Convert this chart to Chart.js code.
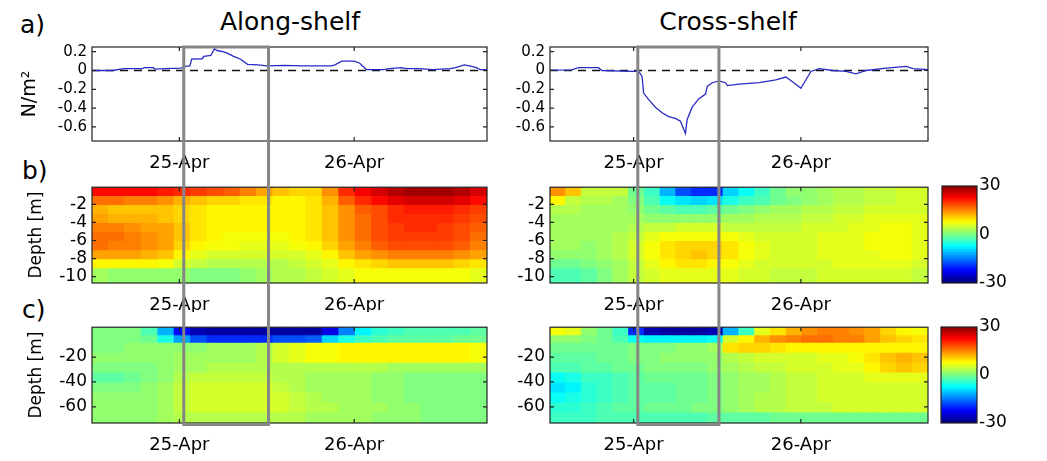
<!DOCTYPE html>
<html>
<head>
<meta charset="utf-8">
<script src="https://cdn.jsdelivr.net/npm/chart.js@4.4.1/dist/chart.umd.min.js"></script>
<style>
    body { margin: 0; background: #fff; }
    #fig { position: relative; width: 1047px; height: 461px; overflow: hidden; font-family: 'DejaVu Sans', sans-serif; }
    #fig canvas { position: absolute; }
    .lbl { position: absolute; color: #000; white-space: nowrap; line-height: 1; }
    .ttl { transform: translate(-50%, -50%); font-size: 25px; }
    .pan { font-size: 25px; }
</style>
</head>
<body>
<div id="fig">
    <div class="lbl ttl" style="left:290px; top:21px;">Along-shelf</div>
    <div class="lbl ttl" style="left:728px; top:21px;">Cross-shelf</div>
    <div class="lbl pan" style="left:20px; top:12px;">a)</div>
    <div class="lbl pan" style="left:22px; top:158px;">b)</div>
    <div class="lbl pan" style="left:22px; top:297px;">c)</div>
</div>
<script>
// time axis (days of April)
const timeRange = [24.5, 26.76];
const dayTicks = [25, 26];
const dayTickLabels = ['25-Apr', '26-Apr'];
const boxSpan = [25.025, 25.51];

// a) wind stress
const stressRange = [-0.75, 0.25];
const stressTicks = [-0.6, -0.4, -0.2, 0, 0.2];
const stressTickLabels = ['-0.6', '-0.4', '-0.2', '0', '0.2'];
const alongTimes = [24.50, 24.62, 24.68, 24.79, 24.80, 24.85, 24.86, 24.92, 25.01, 25.03, 25.06, 25.07, 25.13, 25.14, 25.18, 25.20, 25.22, 25.25, 25.28, 25.31, 25.35, 25.39, 25.45, 25.50, 25.60, 25.70, 25.80, 25.87, 25.89, 25.93, 26.00, 26.03, 26.07, 26.17, 26.20, 26.27, 26.30, 26.37, 26.45, 26.55, 26.58, 26.63, 26.66, 26.70, 26.72, 26.76];
const alongStress = [0.00, 0.00, 0.02, 0.02, 0.03, 0.03, 0.015, 0.02, 0.025, 0.045, 0.05, 0.12, 0.125, 0.15, 0.16, 0.23, 0.21, 0.20, 0.18, 0.15, 0.12, 0.065, 0.06, 0.05, 0.055, 0.05, 0.05, 0.05, 0.06, 0.10, 0.10, 0.08, 0.01, 0.01, 0.02, 0.03, 0.02, 0.02, 0.01, 0.02, 0.03, 0.06, 0.05, 0.03, 0.01, 0.01];
const crossTimes = [24.50, 24.63, 24.67, 24.79, 24.81, 24.99, 25.03, 25.05, 25.06, 25.09, 25.13, 25.17, 25.21, 25.25, 25.28, 25.31, 25.32, 25.35, 25.39, 25.43, 25.44, 25.47, 25.51, 25.55, 25.56, 25.63, 25.75, 25.85, 25.91, 25.95, 26.00, 26.06, 26.11, 26.19, 26.27, 26.33, 26.39, 26.51, 26.63, 26.67, 26.76];
const crossStress = [0.005, 0.007, 0.03, 0.03, 0.0, -0.01, -0.01, -0.06, -0.24, -0.31, -0.39, -0.45, -0.49, -0.51, -0.54, -0.67, -0.52, -0.39, -0.30, -0.25, -0.17, -0.13, -0.11, -0.13, -0.16, -0.145, -0.13, -0.10, -0.07, -0.12, -0.19, -0.01, 0.02, 0.0, -0.01, -0.035, 0.0, 0.025, 0.043, 0.02, 0.01];

// b), c) velocity sections
const gridTimes = [24.5471, 24.6413, 24.7354, 24.8296, 24.9238, 25.0179, 25.1121, 25.2063, 25.3004, 25.3946, 25.4888, 25.5829, 25.6771, 25.7713, 25.8654, 25.9596, 26.0538, 26.1479, 26.2421, 26.3363, 26.4304, 26.5246, 26.6188, 26.7129];
const shallowEdges = [-0.1, -1, -2, -3, -4, -5, -6, -7, -8, -9, -10.7];
const shallowTicks = [-10, -8, -6, -4, -2];
const shallowTickLabels = ['-10', '-8', '-6', '-4', '-2'];
const deepEdges = [4, -2, -8, -16, -24, -32, -40, -48, -56, -64, -73];
const deepTicks = [-60, -40, -20];
const deepTickLabels = ['-60', '-40', '-20'];

const alongShallow = [
    [22, 22, 22, 22, 21, 20, 19, 18, 17, 15, 13, 11, 10, 10, 14, 20, 23, 25, 27, 28, 28, 28, 27, 25],
    [16, 16, 15, 15, 14, 12, 11, 10, 10, 9, 9, 8, 8, 9, 12, 17, 20, 22, 24, 25, 25, 25, 24, 22],
    [12, 11, 11, 11, 11, 10, 9, 8, 8, 8, 8, 8, 8, 9, 11, 14, 17, 18, 20, 21, 21, 21, 20, 19],
    [13, 12, 12, 12, 11, 10, 9, 8, 8, 8, 8, 8, 8, 9, 11, 14, 16, 18, 20, 20, 20, 20, 19, 18],
    [15, 15, 14, 13, 13, 11, 9, 8, 8, 8, 8, 8, 8, 9, 11, 14, 16, 18, 19, 20, 20, 19, 18, 17],
    [16, 16, 15, 14, 13, 11, 9, 8, 7, 7, 7, 7, 8, 9, 11, 14, 16, 18, 19, 19, 19, 19, 18, 16],
    [16, 15, 15, 14, 13, 10, 8, 7, 7, 6, 6, 6, 7, 8, 10, 13, 15, 17, 18, 18, 18, 18, 17, 15],
    [13, 13, 13, 12, 11, 8, 6, 5, 5, 5, 5, 5, 5, 6, 8, 11, 13, 14, 15, 15, 15, 15, 14, 13],
    [8, 8, 8, 8, 7, 5, 4, 3, 3, 3, 3, 3, 4, 5, 6, 8, 9, 10, 11, 11, 11, 11, 10, 9],
    [2, 1, 1, 1, 1, 1, 0, 0, 0, 1, 2, 3, 3, 4, 5, 6, 7, 7, 7, 7, 7, 7, 7, 6]
];
const crossShallow = [
    [14, 11, 4, 4, 4, -1, -4, -12, -18, -20, -20, -10, -7, -4, -1, 1, 1, 2, 3, 3, 4, 4, 5, 5],
    [8, 4, 3, 3, 2, 0, -3, -7, -9, -10, -9, -6, -4, -3, -1, 0, 1, 2, 3, 3, 4, 4, 5, 5],
    [3, 3, 2, 2, 2, 1, -1, -2, -3, -3, -2, -1, 0, 1, 2, 2, 3, 3, 4, 4, 5, 5, 5, 5],
    [2, 2, 2, 2, 2, 2, 1, 1, 1, 1, 1, 2, 2, 3, 3, 3, 4, 4, 5, 5, 6, 6, 6, 6],
    [2, 2, 2, 2, 2, 3, 4, 4, 5, 5, 5, 4, 4, 4, 4, 4, 5, 5, 5, 6, 6, 7, 7, 6],
    [2, 2, 2, 2, 3, 4, 6, 7, 7, 7, 7, 7, 6, 5, 5, 5, 5, 6, 6, 6, 7, 7, 7, 6],
    [2, 2, 1, 2, 3, 5, 7, 9, 10, 10, 10, 9, 7, 6, 5, 5, 5, 6, 6, 6, 7, 7, 7, 6],
    [1, 1, 1, 2, 3, 5, 7, 9, 10, 11, 10, 9, 7, 6, 5, 5, 5, 6, 6, 6, 6, 7, 7, 6],
    [-1, -1, 0, 1, 2, 4, 6, 8, 9, 9, 8, 7, 6, 5, 5, 5, 5, 5, 6, 6, 6, 6, 6, 5],
    [-3, -3, -2, 0, 2, 4, 5, 6, 6, 6, 6, 6, 5, 5, 4, 4, 4, 5, 5, 5, 5, 5, 5, 4]
];
const alongDeep = [
    [0, 0, 0, -3, -12, -22, -27, -28, -28, -28, -28, -28, -28, -28, -24, -15, -8, -5, -4, -3, -3, -3, -3, -2],
    [0, 0, 0, -1, -6, -13, -18, -20, -20, -20, -20, -18, -18, -17, -10, -6, -4, -3, -2, -2, -2, -2, -1, -1],
    [0, 0, 1, 1, 1, 1, 1, 2, 2, 2, 3, 5, 6, 7, 7, 8, 8, 8, 8, 8, 8, 8, 8, 7],
    [1, 1, 1, 1, 1, 2, 2, 2, 2, 2, 3, 5, 6, 7, 7, 8, 8, 8, 8, 8, 8, 8, 8, 7],
    [0, 0, 0, 0, 1, 2, 2, 3, 3, 3, 3, 3, 3, 3, 3, 3, 3, 3, 2, 2, 2, 2, 2, 2],
    [-2, -2, -1, 0, 1, 3, 4, 4, 4, 4, 4, 3, 3, 2, 2, 2, 2, 1, 1, 0, 0, 0, 0, 0],
    [0, 0, 0, 1, 2, 4, 5, 5, 5, 5, 5, 4, 3, 2, 2, 2, 2, 1, 1, 0, 0, 0, 0, 0],
    [1, 1, 1, 1, 2, 4, 5, 5, 5, 5, 5, 5, 4, 3, 2, 2, 2, 1, 1, 0, 0, 0, 0, 0],
    [1, 1, 1, 1, 2, 4, 5, 5, 5, 5, 5, 5, 4, 3, 3, 2, 2, 2, 1, 1, 0, 0, 0, 0],
    [1, 1, 1, 1, 2, 3, 3, 3, 3, 3, 3, 3, 3, 2, 2, 2, 2, 1, 1, 1, 0, 0, 0, 0]
];
const crossDeep = [
    [7, 6, 1, -1, -4, -20, -27, -28, -28, -28, -27, -12, -4, 6, 9, 12, 14, 15, 15, 14, 13, 10, 8, 7],
    [1, 1, 0, -1, -3, -7, -8, -8, -8, -8, -7, 5, 8, 12, 14, 15, 16, 16, 15, 15, 13, 11, 10, 9],
    [-1, -1, -1, -1, -1, 0, 0, 0, 1, 1, 2, 9, 10, 10, 9, 8, 8, 8, 8, 8, 8, 8, 8, 8],
    [-2, -2, -2, -1, -1, 0, 0, 1, 1, 1, 1, 3, 4, 5, 5, 5, 5, 6, 6, 7, 9, 11, 12, 11],
    [-3, -3, -2, -2, -1, -1, 0, 0, 0, 0, 1, 2, 3, 4, 4, 5, 5, 5, 6, 6, 8, 10, 11, 10],
    [-7, -6, -4, -4, -3, -2, -1, -1, -1, -1, 0, 1, 2, 2, 3, 4, 4, 5, 5, 5, 6, 6, 6, 6],
    [-9, -8, -5, -4, -3, -2, -2, -2, -1, -1, 0, 1, 2, 2, 3, 4, 4, 5, 5, 5, 5, 5, 5, 5],
    [-7, -6, -5, -4, -3, -2, -2, -2, -1, -1, 0, 1, 2, 3, 3, 4, 4, 5, 5, 5, 5, 5, 5, 5],
    [-5, -5, -4, -3, -2, -2, -1, -1, -1, 0, 0, 1, 2, 3, 3, 4, 4, 4, 5, 5, 5, 5, 5, 5],
    [-4, -4, -4, -3, -3, -3, -3, -3, -3, -3, -2, -2, -2, -2, -1, -1, -1, -1, -1, -1, -1, -1, -1, -1]
];

// colour scale
const colorLimits = [-30, 30];
const colorTicks = [-30, 0, 30];
const colorTickLabels = ['-30', '0', '30'];
const colorSteps = 64;

Chart.defaults.font.family = "'DejaVu Sans', sans-serif";
Chart.defaults.color = '#000';

function jet(v) {
    let t = (v - colorLimits[0]) / (colorLimits[1] - colorLimits[0]);
    t = Math.max(0, Math.min(1, t));
    const c = x => Math.round(255 * Math.max(0, Math.min(1, x)));
    return `rgb(${c(1.5 - Math.abs(4 * t - 3))},${c(1.5 - Math.abs(4 * t - 2))},${c(1.5 - Math.abs(4 * t - 1))})`;
}

// box, inward ticks and the grey highlight box
const framePlugin = {
    id: 'frame',
    afterDraw(chart, args, opts) {
        const { ctx, chartArea: a, scales } = chart;
        ctx.save();
        ctx.strokeStyle = '#222';
        ctx.lineWidth = 1.2;
        ctx.strokeRect(a.left, a.top, a.right - a.left, a.bottom - a.top);
        if (opts.ticks) {
            const tl = 4;
            ctx.beginPath();
            scales.x.ticks.forEach(t => {
                const px = scales.x.getPixelForValue(t.value);
                ctx.moveTo(px, a.bottom); ctx.lineTo(px, a.bottom - tl);
                ctx.moveTo(px, a.top); ctx.lineTo(px, a.top + tl);
            });
            scales.y.ticks.forEach(t => {
                const py = scales.y.getPixelForValue(t.value);
                ctx.moveTo(a.left, py); ctx.lineTo(a.left + tl, py);
                ctx.moveTo(a.right, py); ctx.lineTo(a.right - tl, py);
            });
            ctx.stroke();
        }
        if (opts.span) {
            const x0 = scales.x.getPixelForValue(boxSpan[0]);
            const x1 = scales.x.getPixelForValue(boxSpan[1]);
            const y0 = opts.span.top ? a.top : 0;
            const y1 = opts.span.bottom ? a.bottom + 1.5 : chart.height;
            ctx.strokeStyle = '#868686';
            ctx.lineWidth = 3;
            ctx.beginPath();
            ctx.moveTo(x0, y0); ctx.lineTo(x0, y1);
            ctx.moveTo(x1, y0); ctx.lineTo(x1, y1);
            if (opts.span.top) { ctx.moveTo(x0 - 1.5, y0); ctx.lineTo(x1 + 1.5, y0); }
            if (opts.span.bottom) { ctx.moveTo(x0 - 1.5, y1); ctx.lineTo(x1 + 1.5, y1); }
            ctx.stroke();
        }
        ctx.restore();
    }
};

function makeCanvas(box) {
    const cv = document.createElement('canvas');
    cv.width = box.w; cv.height = box.h;
    cv.style.left = box.x + 'px'; cv.style.top = box.y + 'px';
    document.getElementById('fig').appendChild(cv);
    return cv;
}

function xAxis(box, area) {
    return {
        type: 'linear', min: timeRange[0], max: timeRange[1], offset: false,
        grid: { display: false, drawTicks: false }, border: { display: false },
        afterBuildTicks: s => { s.ticks = dayTicks.map(v => ({ value: v })); },
        afterFit: s => { s.height = box.y + box.h - area.bottom; },
        ticks: { autoSkip: false, maxRotation: 0, padding: 12, font: { size: 18 },
                 callback: (v, i) => dayTickLabels[i] }
    };
}

function yAxis(box, area, range, ticks, labels, fontSize, title) {
    return {
        type: 'linear', min: range[0], max: range[1],
        grid: { display: false, drawTicks: false }, border: { display: false },
        afterBuildTicks: s => { s.ticks = ticks.map(v => ({ value: v })); },
        afterFit: s => { s.width = area.left - box.x - 4; },
        ticks: { autoSkip: false, padding: 5, font: { size: fontSize }, callback: (v, i) => labels[i] },
        title: title ? { display: true, text: title.text, font: { size: title.size }, padding: { top: title.pad, bottom: 0 } }
                     : { display: false }
    };
}

function baseOptions(box, area, span) {
    return {
        responsive: false, animation: false, devicePixelRatio: 1, events: [],
        layout: { padding: { left: 4, top: area.top - box.y, right: box.x + box.w - area.right, bottom: 0 } },
        plugins: { legend: { display: false }, tooltip: { enabled: false }, frame: { ticks: true, span: span } }
    };
}

function stressPanel(box, area, times, values, title) {
    const opts = baseOptions(box, area, { top: true, bottom: false });
    opts.scales = {
        x: xAxis(box, area),
        y: yAxis(box, area, stressRange, stressTicks, stressTickLabels, 15, title)
    };
    new Chart(makeCanvas(box), {
        type: 'line',
        data: {
            datasets: [
                { data: times.map((t, i) => ({ x: t, y: values[i] })), borderColor: '#2a2ac4', borderWidth: 1.3, pointRadius: 0, tension: 0 },
                { data: [{ x: timeRange[0], y: 0 }, { x: timeRange[1], y: 0 }], borderColor: '#111', borderWidth: 1.4, borderDash: [8, 6], pointRadius: 0 }
            ]
        },
        options: opts,
        plugins: [framePlugin]
    });
}

function heatPanel(box, area, matrix, edges, ticks, labels, span, title) {
    const opts = baseOptions(box, area, span);
    opts.scales = {
        x: xAxis(box, area),
        y: yAxis(box, area, [edges[edges.length - 1], edges[0]], ticks, labels, 17, title)
    };
    new Chart(makeCanvas(box), {
        type: 'bar',
        data: {
            datasets: matrix.map((row, r) => ({
                data: row.map((v, c) => ({ x: gridTimes[c], y: [edges[r + 1], edges[r]] })),
                backgroundColor: row.map(jet),
                grouped: false, barPercentage: 1, categoryPercentage: 1, borderWidth: 0, inflateAmount: 0.6
            }))
        },
        options: opts,
        plugins: [framePlugin]
    });
}

function colorbar(box, area) {
    const levels = [];
    for (let k = 0; k < colorSteps; k++) {
        const lo = colorLimits[0] + (colorLimits[1] - colorLimits[0]) * k / colorSteps;
        const hi = colorLimits[0] + (colorLimits[1] - colorLimits[0]) * (k + 1) / colorSteps;
        levels.push([lo, hi]);
    }
    new Chart(makeCanvas(box), {
        type: 'bar',
        data: {
            labels: ['cb'],
            datasets: levels.map(l => ({
                data: [l], backgroundColor: jet((l[0] + l[1]) / 2),
                grouped: false, barPercentage: 1, categoryPercentage: 1, borderWidth: 0, inflateAmount: 0.6
            }))
        },
        options: {
            responsive: false, animation: false, devicePixelRatio: 1, events: [],
            layout: { padding: { left: area.left - box.x, top: area.top - box.y, right: 0, bottom: box.y + box.h - area.bottom } },
            plugins: { legend: { display: false }, tooltip: { enabled: false }, frame: { ticks: false } },
            scales: {
                x: { type: 'category', display: false, offset: true },
                y: {
                    type: 'linear', position: 'right', min: colorLimits[0], max: colorLimits[1],
                    grid: { display: false, drawTicks: false }, border: { display: false },
                    afterBuildTicks: s => { s.ticks = colorTicks.map(v => ({ value: v })); },
                    afterFit: s => { s.width = box.x + box.w - area.right; },
                    ticks: { autoSkip: false, padding: 2, font: { size: 17 }, callback: (v, i) => colorTickLabels[i] }
                }
            }
        },
        plugins: [framePlugin]
    });
}

// left column
stressPanel({ x: 0, y: 0, w: 495, h: 172 }, { left: 92, top: 47, right: 487, bottom: 141 },
    alongTimes, alongStress, { text: 'N/m²', size: 19, pad: 15 });
heatPanel({ x: 0, y: 172, w: 495, h: 140 }, { left: 92, top: 186, right: 487, bottom: 283 },
    alongShallow, shallowEdges, shallowTicks, shallowTickLabels, { top: false, bottom: false }, { text: 'Depth [m]', size: 17, pad: 22 });
heatPanel({ x: 0, y: 312, w: 495, h: 149 }, { left: 92, top: 327, right: 487, bottom: 423 },
    alongDeep, deepEdges, deepTicks, deepTickLabels, { top: false, bottom: true }, { text: 'Depth [m]', size: 17, pad: 22 });

// right column
stressPanel({ x: 495, y: 0, w: 440, h: 172 }, { left: 550, top: 47, right: 928, bottom: 141 },
    crossTimes, crossStress, null);
heatPanel({ x: 495, y: 172, w: 440, h: 140 }, { left: 550, top: 186, right: 928, bottom: 283 },
    crossShallow, shallowEdges, shallowTicks, shallowTickLabels, { top: false, bottom: false }, null);
heatPanel({ x: 495, y: 312, w: 440, h: 149 }, { left: 550, top: 327, right: 928, bottom: 423 },
    crossDeep, deepEdges, deepTicks, deepTickLabels, { top: false, bottom: true }, null);

// colour bars
colorbar({ x: 935, y: 172, w: 112, h: 140 }, { left: 942, top: 186, right: 977, bottom: 283 });
colorbar({ x: 935, y: 312, w: 112, h: 149 }, { left: 941, top: 327, right: 977, bottom: 423 });
</script>
</body>
</html>
